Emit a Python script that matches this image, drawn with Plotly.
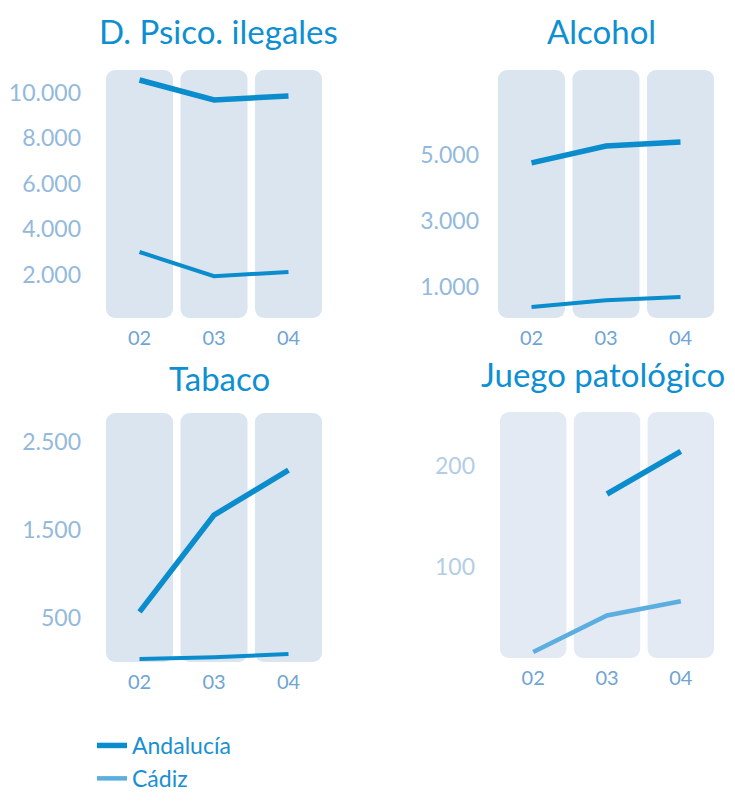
import plotly.graph_objects as go

# ---------------- data ----------------
years = ["02", "03", "04"]

psico_andalucia = [10550, 9670, 9850]
psico_cadiz = [2990, 1930, 2110]
psico_ticks = [2000, 4000, 6000, 8000, 10000]

alcohol_andalucia = [4760, 5270, 5390]
alcohol_cadiz = [390, 600, 700]
alcohol_ticks = [1000, 3000, 5000]

tabaco_andalucia = [570, 1670, 2180]
tabaco_cadiz = [35, 55, 90]
tabaco_ticks = [500, 1500, 2500]

juego_andalucia = [None, 172, 214]
juego_cadiz = [16, 52, 66]
juego_ticks = [100, 200]

titles = ["D. Psico. ilegales", "Alcohol", "Tabaco", "Juego patológico"]
series_names = ["Andalucía", "Cádiz"]

# ---------------- styling ----------------
PAGE_W, PAGE_H = 735, 803
OFF = 8  # default body margin of the html page
W, H = PAGE_W - 2 * OFF, PAGE_H - 2 * OFF


def fx(px):
    return (px - OFF) / W


def fy(py):
    return 1 - (py - OFF) / H


FONT = "Lato"
TITLE_C = "#0d8fd2"
AND_C = "#0a8ccd"
TICK_C = "#93b9dc"
XTICK_C = "#6fa4d4"

panels = [
    dict(a=psico_andalucia, c=psico_cadiz, ticks=psico_ticks, rng=[90, 10990],
         px=(106, 322), py=(70, 318), bar="#dbe5f0", cad_c=AND_C, cad_w=4,
         tick_c=TICK_C, stand=24, title_xy=(218, 31)),
    dict(a=alcohol_andalucia, c=alcohol_cadiz, ticks=alcohol_ticks, rng=[60, 7575],
         px=(498, 714), py=(70, 318), bar="#dbe5f0", cad_c=AND_C, cad_w=4,
         tick_c=TICK_C, stand=18, title_xy=(601, 31)),
    dict(a=tabaco_andalucia, c=tabaco_cadiz, ticks=tabaco_ticks, rng=[0, 2830],
         px=(106, 322), py=(413, 662), bar="#dbe5f0", cad_c=AND_C, cad_w=4,
         tick_c=TICK_C, stand=24, title_xy=(219, 378)),
    dict(a=juego_andalucia, c=juego_cadiz, ticks=juego_ticks, rng=[10, 253],
         px=(500, 714), py=(412, 658), bar="#e3eaf3", cad_c="#5caee0", cad_w=4.5,
         tick_c="#b4cde6", stand=24, title_xy=(603, 374)),
]

fig = go.Figure()
annotations = []
layout_axes = {}

for i, p in enumerate(panels):
    n = "" if i == 0 else str(i + 1)
    xa, ya = "x" + n, "y" + n
    lo, hi = p["rng"]
    # background columns
    fig.add_trace(go.Bar(
        x=years, y=[hi - lo] * len(years), base=[lo] * len(years),
        width=0.9, marker=dict(color=p["bar"], cornerradius=9, line=dict(width=0)),
        xaxis=xa, yaxis=ya, showlegend=False, hoverinfo="skip"))
    last = i == 3
    fig.add_trace(go.Scatter(
        x=years, y=p["c"], mode="lines", name=series_names[1],
        line=dict(color=p["cad_c"], width=p["cad_w"]),
        xaxis=xa, yaxis=ya, showlegend=last, legendrank=2))
    fig.add_trace(go.Scatter(
        x=years, y=p["a"], mode="lines", name=series_names[0],
        line=dict(color=AND_C, width=5.5),
        xaxis=xa, yaxis=ya, showlegend=last, legendrank=1))

    x0, x1 = p["px"]
    y0, y1 = p["py"]
    layout_axes["xaxis" + n] = dict(
        domain=[fx(x0), fx(x1)], anchor=ya, range=[-0.45, 2.45],
        showgrid=False, zeroline=False, showline=False, ticks="",
        tickfont=dict(family=FONT, size=20, color=XTICK_C),
        ticklabelstandoff=6, fixedrange=True)
    layout_axes["yaxis" + n] = dict(
        domain=[fy(y1), fy(y0)], anchor=xa, range=[lo, hi],
        showgrid=False, zeroline=False, showline=False, ticks="",
        tickvals=p["ticks"], tickformat=",d",
        tickfont=dict(family=FONT, size=23, color=p["tick_c"]),
        ticklabelstandoff=p["stand"], fixedrange=True)
    tx, ty = p["title_xy"]
    annotations.append(dict(
        text=titles[i], x=fx(tx), y=fy(ty), xref="paper", yref="paper",
        xanchor="center", yanchor="middle", showarrow=False,
        font=dict(family=FONT, size=33, color=TITLE_C)))

fig.update_layout(
    width=W, height=H, margin=dict(l=0, r=0, t=0, b=0, autoexpand=False),
    paper_bgcolor="white", plot_bgcolor="rgba(0,0,0,0)",
    separators=",.", barmode="overlay",
    annotations=annotations,
    legend=dict(x=fx(92), y=fy(724), xanchor="left", yanchor="top",
                font=dict(family=FONT, size=23, color="#1a90d2"),
                tracegroupgap=0, itemwidth=30, bgcolor="rgba(0,0,0,0)"),
    **layout_axes,
)

fig.write_html("out.html")
